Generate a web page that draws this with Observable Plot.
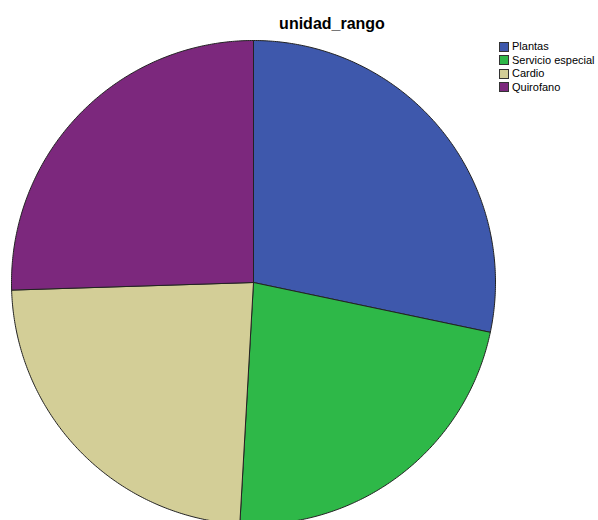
<!DOCTYPE html>
<html>
<head>
<meta charset="utf-8">
<script src="https://cdn.jsdelivr.net/npm/d3@7"></script>
<script src="https://cdn.jsdelivr.net/npm/@observablehq/plot@0.6"></script>
<style>
  html, body { margin: 0; padding: 0; background: #fff; overflow: hidden; }
  #wrap { position: relative; width: 598px; height: 520px; overflow: hidden; font-family: "Liberation Sans", Arial, sans-serif; }
  #title { position: absolute; left: 0; width: 664px; top: 15px; text-align: center; font-weight: bold; font-size: 16px; color: #000; }
  #legend { position: absolute; left: 499px; top: 40px; font-size: 11px; color: #000; white-space: nowrap; }
  .row { height: 13.5px; line-height: 13.5px; display: flex; align-items: center; }
  .sw { width: 8px; height: 8px; border: 1px solid #333; margin-right: 3px; box-sizing: content-box; }
  svg { overflow: hidden; }
</style>
</head>
<body>
<div id="wrap">
  <div id="chart"></div>
  <div id="title">unidad_rango</div>
  <div id="legend"></div>
</div>
<script>
const categories = ["Plantas", "Servicio especial", "Cardio", "Quirofano"];
const values = [28.3, 22.6, 23.6, 25.5];
const colors = ["#3E58AC", "#2EB848", "#D3CE97", "#7C287D"];

// Build slice polygons (angles clockwise from 12 o'clock)
const total = d3.sum(values);
const pts = [];
let start = 0;
categories.forEach((c, i) => {
  const span = values[i] / total * 2 * Math.PI;
  const end = start + span;
  const n = Math.max(2, Math.ceil(span / (Math.PI / 360)));
  pts.push({cat: c, x: 0, y: 0});
  for (let k = 0; k <= n; k++) {
    const a = start + span * k / n;
    pts.push({cat: c, x: Math.sin(a), y: Math.cos(a)});
  }
  pts.push({cat: c, x: 0, y: 0});
  start = end;
});

const plot = Plot.plot({
  width: 598,
  height: 520,
  margin: 0,
  x: {domain: [-1, 1], range: [11, 495], axis: null},
  y: {domain: [-1, 1], range: [524, 40], axis: null},
  color: {domain: categories, range: colors},
  marks: [
    Plot.line(pts, {x: "x", y: "y", z: "cat", fill: "cat", stroke: "#222", strokeWidth: 1, strokeLinejoin: "round", curve: "linear", clip: false})
  ]
});
plot.style.overflow = "hidden";
document.getElementById("chart").appendChild(plot);

const legend = document.getElementById("legend");
categories.forEach((c, i) => {
  const row = document.createElement("div");
  row.className = "row";
  const sw = document.createElement("div");
  sw.className = "sw";
  sw.style.background = colors[i];
  const t = document.createElement("span");
  t.textContent = c;
  row.appendChild(sw);
  row.appendChild(t);
  legend.appendChild(row);
});
</script>
</body>
</html>
